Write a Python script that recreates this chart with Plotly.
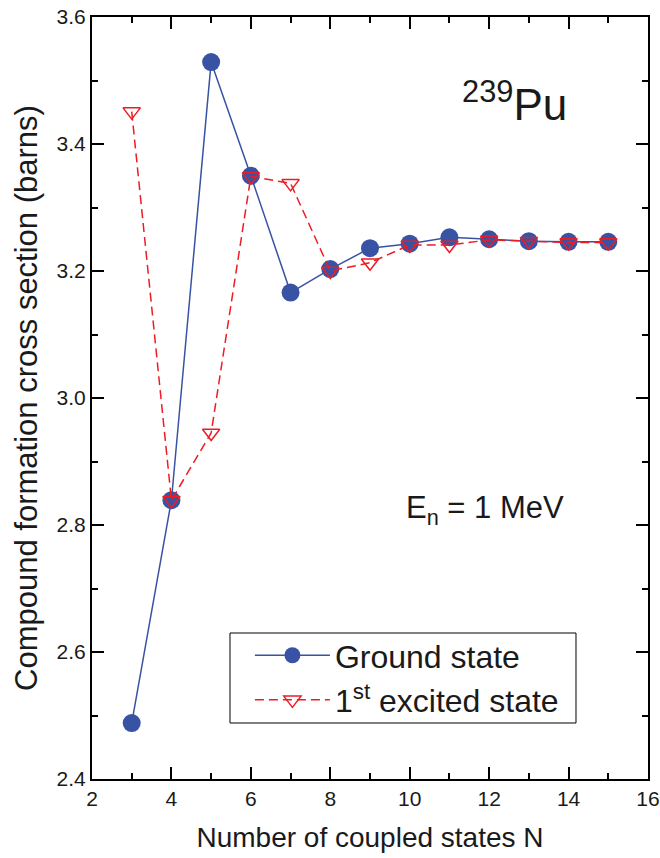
import plotly.graph_objects as go

N = [3, 4, 5, 6, 7, 8, 9, 10, 11, 12, 13, 14, 15]
ground = [2.488, 2.839, 3.529, 3.350, 3.166, 3.203, 3.236, 3.243, 3.253, 3.250, 3.247, 3.246, 3.246]
excited = [3.451, 2.839, 2.945, 3.349, 3.338, 3.200, 3.213, 3.241, 3.241, 3.249, 3.247, 3.245, 3.245]

xticks = [2, 4, 6, 8, 10, 12, 14, 16]
yticks = [2.4, 2.6, 2.8, 3.0, 3.2, 3.4, 3.6]

BLUE = "#3953a4"
RED = "#ed1c24"
INK = "#1a1a1a"
FONT = "Liberation Sans, Arial, sans-serif"

fig = go.Figure()
fig.add_trace(go.Scatter(
    x=N, y=ground, name="Ground state", mode="lines+markers",
    line=dict(color=BLUE, width=1.5),
    marker=dict(symbol="circle", size=18, color=BLUE, line=dict(width=0)),
))
fig.add_trace(go.Scatter(
    x=N, y=excited, name="1<sup>st</sup> excited state", mode="lines+markers",
    line=dict(color=RED, width=1.5, dash="9px,5px"),
    marker=dict(symbol="triangle-down-open", size=15, color=RED, line=dict(width=1.5, color=RED)),
))

axis_common = dict(
    showline=True, linecolor="black", linewidth=2, mirror="ticks",
    ticks="inside", ticklen=12, tickwidth=2, tickcolor="black",
    showgrid=False, zeroline=False, ticklabeloverflow="allow",
    tickfont=dict(family=FONT, size=21, color=INK),
)

fig.update_xaxes(
    range=[2, 16], tickvals=xticks,
    minor=dict(ticks="inside", ticklen=6, tickwidth=2, tickcolor="black", dtick=1, showgrid=False),
    title=dict(text="Number of coupled states N", font=dict(family=FONT, size=28, color=INK), standoff=18),
    **axis_common,
)
fig.update_yaxes(
    range=[2.4, 3.6], tickvals=yticks, tickformat=".1f",
    minor=dict(ticks="inside", ticklen=6, tickwidth=2, tickcolor="black", dtick=0.1, showgrid=False),
    title=dict(text="Compound formation cross section (barns)", font=dict(family=FONT, size=31, color=INK), standoff=10),
    **axis_common,
)

fig.add_annotation(
    x=0.858, y=0.850, xref="paper", yref="paper", xanchor="right", yanchor="bottom",
    text="<sup>239</sup>Pu", showarrow=False, font=dict(family=FONT, size=44, color=INK),
)
fig.add_annotation(
    x=0.853, y=0.353, xref="paper", yref="paper", xanchor="right", yanchor="middle",
    text="E<sub>n</sub> = 1 MeV", showarrow=False, font=dict(family=FONT, size=31, color=INK),
)

# legend frame
fig.add_shape(
    type="rect", xref="paper", yref="paper",
    x0=0.2482, x1=0.8705, y0=0.0735, y1=0.1916,
    line=dict(color="black", width=1), fillcolor="white", layer="below",
)

fig.update_layout(
    width=660, height=858,
    margin=dict(l=92, r=12, t=17, b=79, autoexpand=False),
    paper_bgcolor="white", plot_bgcolor="white",
    showlegend=True,
    legend=dict(
        x=0.284, y=0.1326, xanchor="left", yanchor="middle",
        borderwidth=0, bgcolor="rgba(0,0,0,0)",
        font=dict(family=FONT, size=32, color=INK),
        itemwidth=75, tracegroupgap=0,
    ),
    font=dict(family=FONT),
)

fig.write_html("out.html")
